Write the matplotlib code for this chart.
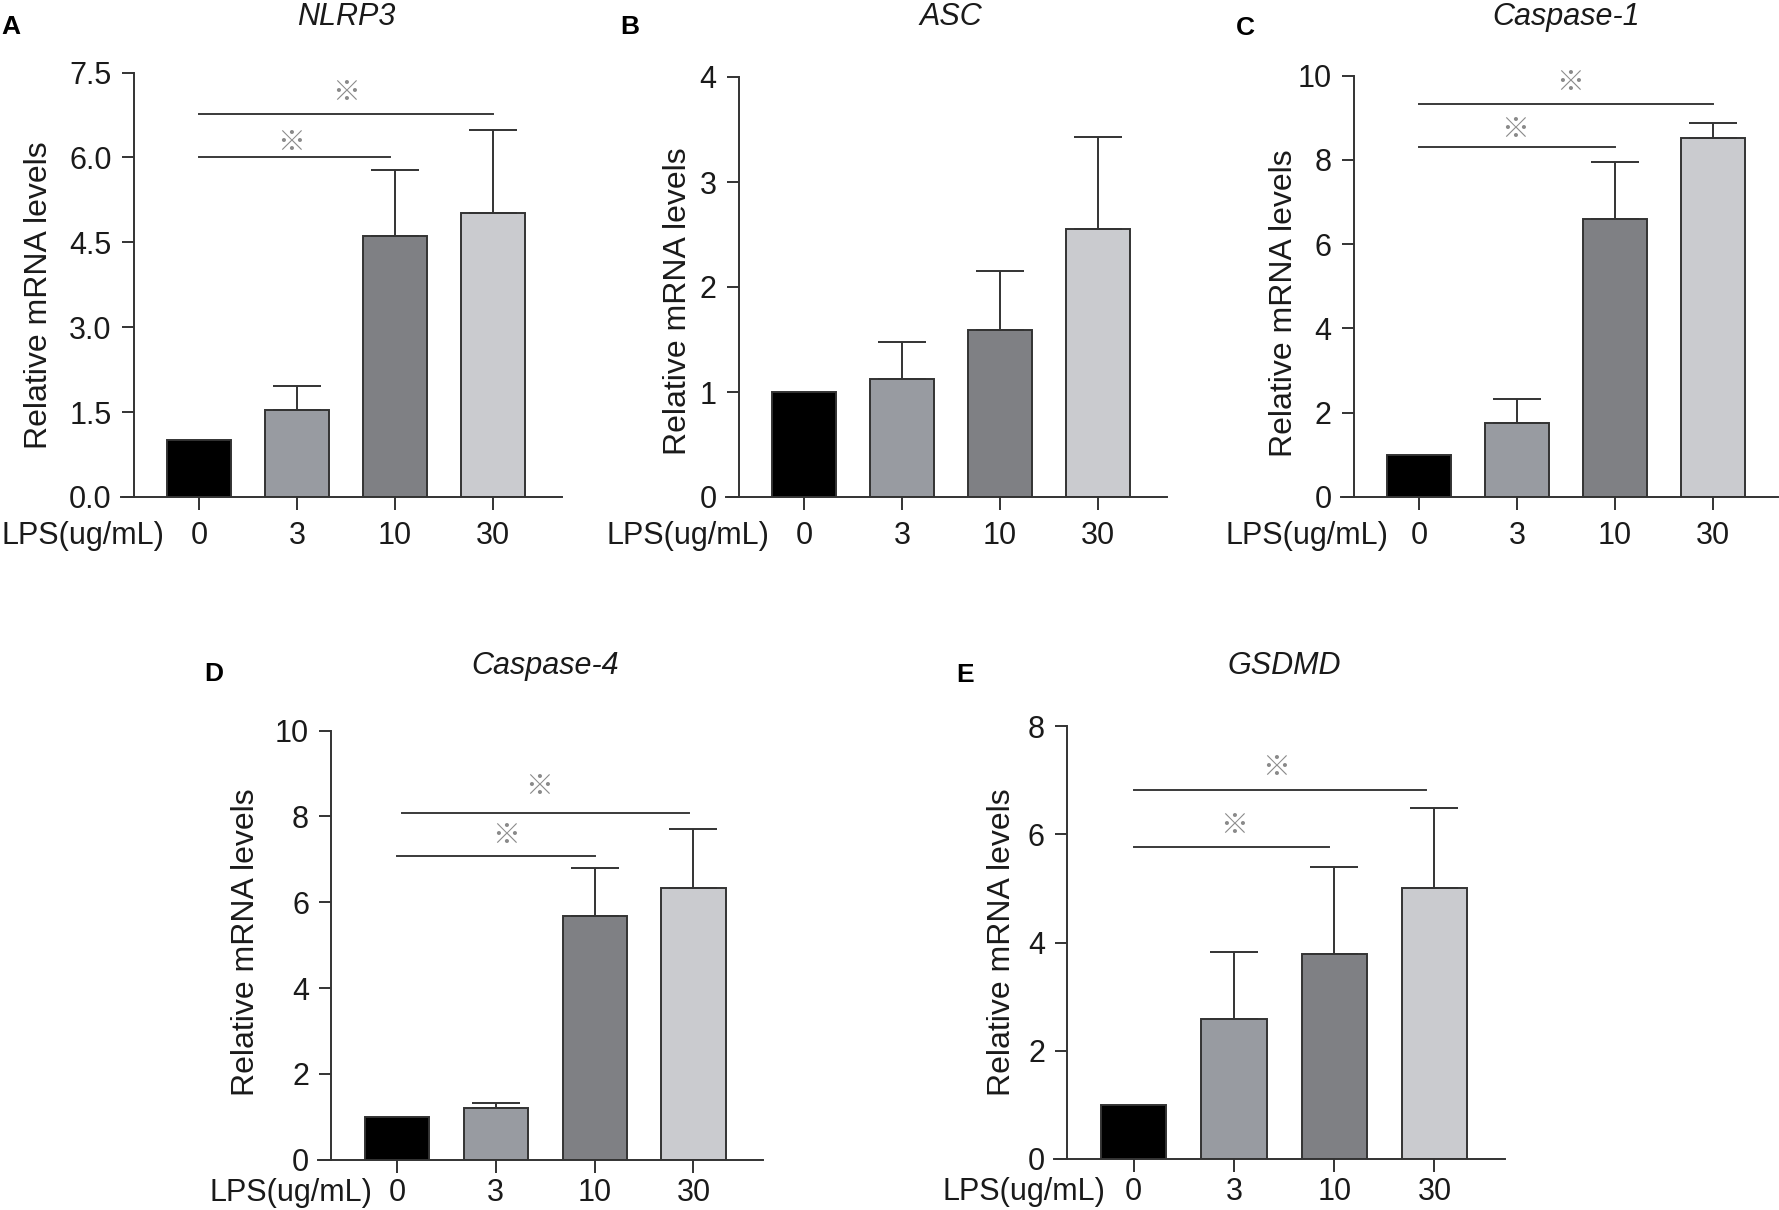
import matplotlib
matplotlib.use('Agg')
import matplotlib.pyplot as plt
from matplotlib.transforms import blended_transform_factory

plt.rcParams['font.family'] = ['Liberation Sans', 'DejaVu Sans']

# LPS doses and bar fills (0, 3, 10, 30 ug/mL)
doses = ['0', '3', '10', '30']
bar_colors = ['#000000', '#989ba1', '#7f8084', '#cacbcf']

# relative mRNA levels, mean and upper error
nlrp3_mean = [1.0, 1.54, 4.61, 5.01]
nlrp3_err = [0, 0.42, 1.16, 1.47]
asc_mean = [1.0, 1.12, 1.59, 2.55]
asc_err = [0, 0.36, 0.56, 0.88]
casp1_mean = [1.0, 1.76, 6.61, 8.52]
casp1_err = [0, 0.57, 1.35, 0.35]
casp4_mean = [1.0, 1.20, 5.69, 6.34]
casp4_err = [0, 0.12, 1.12, 1.37]
gsdmd_mean = [1.0, 2.58, 3.79, 5.00]
gsdmd_err = [0, 1.25, 1.60, 1.48]

# y axis ticks
nlrp3_ticks = [0, 1.5, 3.0, 4.5, 6.0, 7.5]
asc_ticks = [0, 1, 2, 3, 4]
casp1_ticks = [0, 2, 4, 6, 8, 10]
casp4_ticks = [0, 2, 4, 6, 8, 10]
gsdmd_ticks = [0, 2, 4, 6, 8]

# significance brackets: (x start, x end, y) and star (x, y)
nlrp3_sig = [(0, 1.95, 6.0), (0, 3.0, 6.76)]
nlrp3_star = [(0.94, 6.26), (1.5, 7.14)]
casp1_sig = [(0, 2.0, 8.3), (0, 3.0, 9.34)]
casp1_star = [(0.98, 8.72), (1.54, 9.83)]
casp4_sig = [(0, 2.0, 7.07), (0.05, 2.95, 8.09)]
casp4_star = [(1.1, 7.55), (1.44, 8.69)]
gsdmd_sig = [(0, 1.95, 5.77), (0, 2.92, 6.82)]
gsdmd_star = [(1.0, 6.16), (1.42, 7.23)]

W, H = 1779, 1210
fig = plt.figure(figsize=(W / 100, H / 100), dpi=100)

# letter, title, mean, err, ticks, fmt, sig, star, axes box px (x0, x1, ytop, ybot),
# xmax, letter pos, title y, ylabel (anchor x px, center y px), LPS label right edge, x pad
panels = [
    ('A', 'NLRP3', nlrp3_mean, nlrp3_err, nlrp3_ticks, '{:.1f}', nlrp3_sig, nlrp3_star,
     (120.6, 561.6, 72.5, 497), 3.7, (11, 27), 17, (54.5, 295), -0.35, 8),
    ('B', 'ASC', asc_mean, asc_err, asc_ticks, '{:d}', [], [],
     (725.6, 1166.6, 77, 497), 3.7, (630, 27), 17, (692.5, 301), -0.35, 8),
    ('C', 'Caspase-1', casp1_mean, casp1_err, casp1_ticks, '{:d}', casp1_sig, casp1_star,
     (1340.6, 1778, 75.7, 497), 3.663, (1245, 28), 17, (1299.5, 303.6), -0.31, 8),
    ('D', 'Caspase-4', casp4_mean, casp4_err, casp4_ticks, '{:d}', casp4_sig, casp4_star,
     (318, 762.6, 730.7, 1159.6), 3.7, (214, 674), 666, (261.5, 942), -0.25, 4),
    ('E', 'GSDMD', gsdmd_mean, gsdmd_err, gsdmd_ticks, '{:d}', gsdmd_sig, gsdmd_star,
     (1053.6, 1504.6, 726, 1159), 3.7, (965, 675), 666, (1016.5, 942), -0.28, 4),
]

dark = '#333333'
x = list(range(len(doses)))

for (letter, title, mean, err, ticks, fmt, sig, star,
     box, xmax, letter_xy, title_y, ylab, lps_x, xpad) in panels:
    x0, x1, ytop, ybot = box
    ax = fig.add_axes([x0 / W, 1 - ybot / H, (x1 - x0) / W, (ybot - ytop) / H])

    ax.bar(x, mean, width=0.65, color=bar_colors, edgecolor=dark, linewidth=1.4, zorder=2)
    xe = [i for i in x if err[i] > 0]
    ax.errorbar(xe, [mean[i] for i in xe],
                yerr=[[0] * len(xe), [err[i] for i in xe]],
                fmt='none', ecolor=dark, elinewidth=1.4, capsize=17, capthick=1.4, zorder=3)

    for (xa, xb, yy) in sig:
        ax.plot([xa, xb], [yy, yy], color='#3a3a3a', lw=1.4, clip_on=False)
    for (sx, sy) in star:
        ax.text(sx, sy, '\u203b', ha='center', va='center', fontsize=20, color='#8a8a8a',
                family=['Noto Sans CJK JP', 'DejaVu Sans'])

    ax.set_xlim(-0.8, xmax)
    ax.set_ylim(0, ticks[-1])
    for s in ['top', 'right']:
        ax.spines[s].set_visible(False)
    ax.spines['left'].set_position(('data', -0.665))
    ax.spines['left'].set_bounds(0, ticks[-1])
    for s in ['left', 'bottom']:
        ax.spines[s].set_color(dark)
        ax.spines[s].set_linewidth(1.4)

    ax.set_xticks(x)
    ax.set_xticklabels(doses)
    ax.set_yticks(ticks)
    ax.set_yticklabels([fmt.format(t) for t in ticks])
    ax.tick_params(axis='both', direction='out', length=9, width=1.4, color=dark,
                   labelsize=22, labelcolor='#1a1a1a')
    ax.tick_params(axis='x', pad=xpad)
    ax.tick_params(axis='y', pad=7)

    ax.annotate('LPS(ug/mL)', xy=(lps_x, 0), xycoords=('data', 'axes fraction'),
                xytext=(0, -(9 + xpad)), textcoords='offset points', ha='right', va='top',
                fontsize=22, color='#1a1a1a')

    ax.set_ylabel('Relative mRNA levels', fontsize=23, color='#1a1a1a')
    ax.yaxis.set_label_coords((ylab[0] - x0) / (x1 - x0), (ybot - ylab[1]) / (ybot - ytop))

    trans = blended_transform_factory(ax.transData, fig.transFigure)
    ax.text(1.5, 1 - title_y / H, title, transform=trans, ha='center', va='center',
            style='italic', fontsize=22, color='#1a1a1a')

    fig.text(letter_xy[0] / W, 1 - letter_xy[1] / H, letter, ha='center', va='center',
             fontsize=19, weight='bold')

fig.savefig('out.png', dpi=100)
